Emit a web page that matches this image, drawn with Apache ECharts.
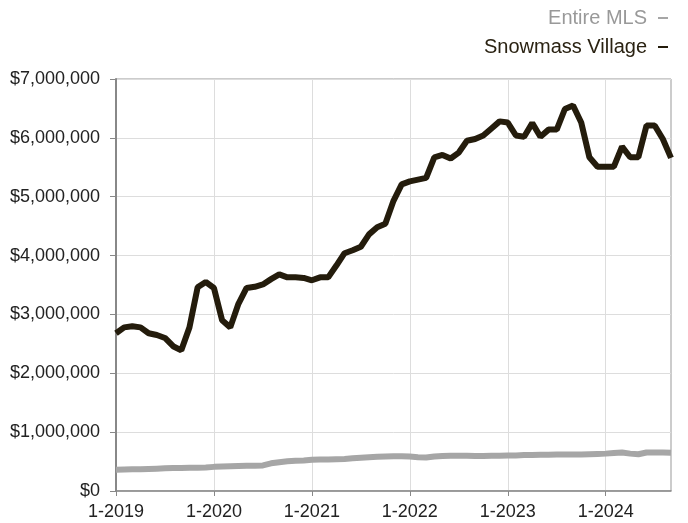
<!DOCTYPE html>
<html>
<head>
<meta charset="utf-8">
<script src="https://cdn.jsdelivr.net/npm/echarts@6/dist/echarts.min.js"></script>
<style>
html,body{margin:0;padding:0;background:#fff;}
#chart{width:688px;height:523px;}
</style>
</head>
<body>
<div id="chart"></div>
<script>
var months = [
 "1-2019","2-2019","3-2019","4-2019","5-2019","6-2019","7-2019","8-2019","9-2019","10-2019","11-2019","12-2019",
 "1-2020","2-2020","3-2020","4-2020","5-2020","6-2020","7-2020","8-2020","9-2020","10-2020","11-2020","12-2020",
 "1-2021","2-2021","3-2021","4-2021","5-2021","6-2021","7-2021","8-2021","9-2021","10-2021","11-2021","12-2021",
 "1-2022","2-2022","3-2022","4-2022","5-2022","6-2022","7-2022","8-2022","9-2022","10-2022","11-2022","12-2022",
 "1-2023","2-2023","3-2023","4-2023","5-2023","6-2023","7-2023","8-2023","9-2023","10-2023","11-2023","12-2023",
 "1-2024","2-2024","3-2024","4-2024","5-2024","6-2024","7-2024","8-2024","9-2024"
];

var snowmassVillage = [
 2680000,2780000,2800000,2780000,2680000,2650000,2600000,2460000,2390000,2780000,3460000,3550000,
 3450000,2900000,2780000,3180000,3450000,3470000,3510000,3600000,3680000,3630000,3630000,3620000,
 3580000,3630000,3630000,3830000,4040000,4090000,4150000,4360000,4480000,4540000,4930000,5210000,
 5260000,5290000,5320000,5670000,5710000,5650000,5750000,5950000,5980000,6040000,6160000,6280000,
 6260000,6040000,6020000,6250000,6020000,6140000,6140000,6490000,6550000,6260000,5670000,5510000,
 5510000,5510000,5850000,5670000,5670000,6210000,6210000,5980000,5660000
];

var entireMLS = [
 360000,365000,370000,370000,375000,380000,385000,390000,390000,395000,395000,400000,
 410000,415000,420000,425000,430000,430000,435000,470000,490000,505000,515000,520000,
 530000,535000,535000,540000,545000,555000,565000,575000,580000,585000,590000,590000,
 585000,575000,570000,585000,595000,600000,600000,600000,595000,595000,600000,600000,
 605000,605000,610000,610000,615000,615000,620000,620000,620000,620000,625000,630000,
 635000,645000,655000,635000,625000,655000,655000,655000,650000
];

var yTicks = [0,1000000,2000000,3000000,4000000,5000000,6000000,7000000];

var FONT = '"Liberation Sans", Arial, Helvetica, sans-serif';
var chart = echarts.init(document.getElementById('chart'), null, {renderer:'canvas'});
chart.setOption({
  animation:false,
  backgroundColor:'#ffffff',
  legend:{
    orient:'vertical',
    right:15,
    top:3,
    align:'right',
    itemGap:9,
    itemWidth:10,
    itemHeight:2,
    icon:'rect',
    textStyle:{fontFamily:FONT,fontSize:20,padding:[0,6,0,0]},
    data:[
      {name:'Entire MLS',textStyle:{color:'#999999'},itemStyle:{color:'#a6a6a6'}},
      {name:'Snowmass Village',textStyle:{color:'#2a2212'},itemStyle:{color:'#241c0c'}}
    ]
  },
  grid:{left:116,right:17,top:79,bottom:32,show:true,borderColor:'#999999',borderWidth:1,containLabel:false},
  xAxis:{
    type:'category',
    data:months,
    boundaryGap:false,
    axisLine:{lineStyle:{color:'#888888',width:1.5}},
    axisTick:{show:true,interval:11,length:5,lineStyle:{color:'#888888'}},
    axisLabel:{interval:11,fontFamily:FONT,fontSize:18,color:'#222222',margin:12},
    splitLine:{show:true,interval:11,lineStyle:{color:'#dddddd',width:1}}
  },
  yAxis:{
    type:'value',
    min:yTicks[0],
    max:yTicks[yTicks.length-1],
    interval:1000000,
    axisLine:{show:true,lineStyle:{color:'#888888',width:2}},
    axisTick:{show:true,length:6,lineStyle:{color:'#888888'}},
    axisLabel:{fontFamily:FONT,fontSize:18,color:'#222222',margin:16,
      formatter:function(v){return '$'+Number(v).toLocaleString('en-US');}},
    splitLine:{show:true,lineStyle:{color:'#dddddd',width:1}}
  },
  series:[
    {name:'Entire MLS',type:'line',data:entireMLS,showSymbol:false,symbol:'none',
      lineStyle:{color:'#a6a6a6',width:6},itemStyle:{color:'#a6a6a6'}},
    {name:'Snowmass Village',type:'line',data:snowmassVillage,showSymbol:false,symbol:'none',
      lineStyle:{color:'#241c0c',width:6},itemStyle:{color:'#241c0c'}}
  ]
});
</script>
</body>
</html>
